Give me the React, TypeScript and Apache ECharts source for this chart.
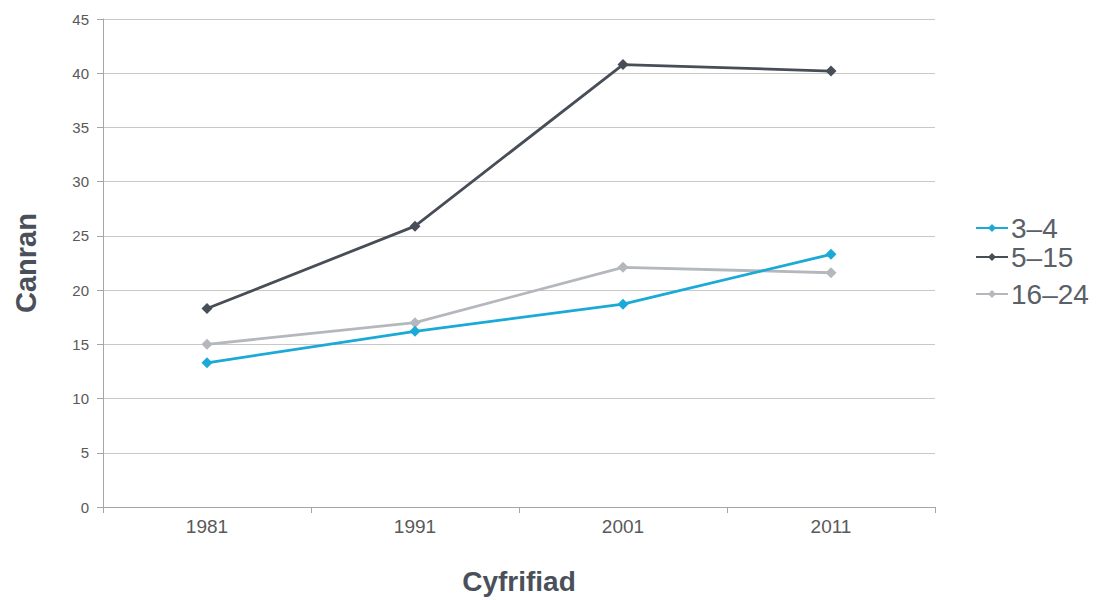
import React, { useEffect, useRef } from "react";
import * as echarts from "echarts";

const categories = ["1981", "1991", "2001", "2011"];
const seriesNames = ["3–4", "5–15", "16–24"];
const values34 = [13.3, 16.2, 18.7, 23.3];
const values515 = [18.3, 25.9, 40.8, 40.2];
const values1624 = [15.0, 17.0, 22.1, 21.6];
const colors = ["#1ba9d6", "#474e57", "#b4b8bd"];

export default function App() {
  const ref = useRef<HTMLDivElement>(null);
  useEffect(() => {
    if (!ref.current) return;
    const chart = echarts.init(ref.current, undefined, { renderer: "svg" });
    const data = [values34, values515, values1624];
    const legendTops = [209, 238, 275];
    chart.setOption({
      animation: false,
      backgroundColor: "#ffffff",
      textStyle: { fontFamily: "Liberation Sans, Arial, sans-serif" },
      grid: { left: 103, right: 171, top: 19, bottom: 91, containLabel: false },
      legend: seriesNames.map((n, i) => ({
        data: [n],
        orient: "vertical",
        left: 970,
        top: legendTops[i],
        itemWidth: 32,
        itemHeight: 10,
        itemGap: 0,
        textStyle: { fontSize: 28, color: "#5a6068", padding: [0, 0, 0, -2] },
        selectedMode: false,
      })),
      xAxis: {
        type: "category",
        data: categories,
        boundaryGap: true,
        name: "Cyfrifiad",
        nameLocation: "middle",
        nameGap: 60,
        nameTextStyle: { fontSize: 28, fontWeight: "bold", color: "#4a5059" },
        axisLine: { lineStyle: { color: "#a6a6a6", width: 1 } },
        axisTick: { show: true, length: 6, lineStyle: { color: "#a6a6a6" } },
        axisLabel: { fontSize: 19, color: "#595959", margin: 10 },
        splitLine: { show: false },
      },
      yAxis: {
        type: "value",
        min: 0,
        max: 45,
        interval: 5,
        name: "Canran",
        nameLocation: "middle",
        nameGap: 63,
        nameTextStyle: { fontSize: 29, fontWeight: "bold", color: "#4a5059" },
        axisLine: { show: true, lineStyle: { color: "#a6a6a6", width: 1 } },
        axisTick: { show: true, length: 6, lineStyle: { color: "#a6a6a6" } },
        axisLabel: { fontSize: 15, color: "#595959", margin: 14 },
        splitLine: { show: true, lineStyle: { color: "#c8c8c8", width: 1 } },
      },
      series: seriesNames.map((n, i) => ({
        name: n,
        type: "line",
        data: data[i],
        symbol: "diamond",
        symbolSize: 11,
        itemStyle: { color: colors[i] },
        lineStyle: { color: colors[i], width: 2.8 },
        z: i === 0 ? 4 : i === 1 ? 3 : 2,
      })),
    });
    return () => chart.dispose();
  }, []);
  return (
    <div
      ref={ref}
      style={{ position: "absolute", left: 0, top: 0, width: 1106, height: 600 }}
    />
  );
}
